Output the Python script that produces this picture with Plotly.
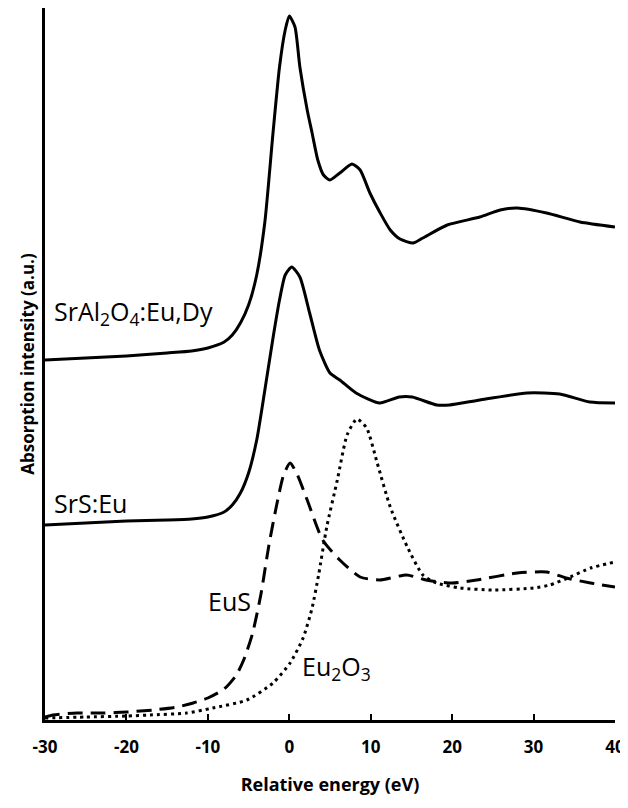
import plotly.graph_objects as go

# ---- data (relative energy in eV, absorption intensity in a.u.) ----
sral_x = [-30, -25, -20, -15, -12, -10, -8, -7, -6, -5, -4, -3, -2, -1.2, -0.5, 0.0,
          0.7, 1.3, 2.2, 2.8, 3.5, 4.2, 5.0, 6.2, 7.7, 8.7, 9.9, 11.1, 12.4, 13.6, 15.2,
          16.4, 19.4, 23.4, 25.9, 28.0, 31.6, 35.7, 40.0]
sral_y = [3.60, 3.62, 3.64, 3.67, 3.69, 3.72, 3.78, 3.85, 3.97, 4.15, 4.45, 4.98, 5.87, 6.53, 6.90, 7.04,
          6.93, 6.53, 6.10, 5.87, 5.60, 5.45, 5.40, 5.47, 5.56, 5.50, 5.27, 5.08, 4.90, 4.81, 4.77,
          4.82, 4.95, 5.03, 5.10, 5.12, 5.07, 4.98, 4.93]

srs_x = [-30, -25, -20, -15, -12, -10, -8, -7, -6, -5, -4, -3, -2, -1.2, -0.5, 0.3,
         1.3, 2.5, 3.7, 5.0, 6.2, 8.2, 11.1, 13.5, 15.1, 18.1, 19.7, 23.4, 29.2, 33.2, 36.9, 40.0]
srs_y = [1.95, 1.97, 1.99, 2.00, 2.01, 2.03, 2.08, 2.15, 2.27, 2.47, 2.80, 3.30, 3.82, 4.20, 4.45, 4.53,
         4.43, 4.07, 3.70, 3.47, 3.40, 3.27, 3.17, 3.23, 3.23, 3.15, 3.15, 3.20, 3.27, 3.26, 3.18, 3.17]

eus_x = [-30, -29.0, -26.1, -22.9, -19.9, -16.7, -13.8, -11.8, -10, -8, -6.5, -5.5, -4.5,
         -3.5, -2.5, -1.5, -0.7, 0.1, 1.0, 2.2, 4.1, 6.2, 8.7, 11.1, 14.4, 16.8, 20.0, 23.0, 28.0,
         31.6, 34.0, 37.0, 40.0]
eus_y = [0.03, 0.05, 0.07, 0.07, 0.08, 0.10, 0.13, 0.17, 0.22, 0.31, 0.45, 0.62, 0.87,
         1.25, 1.75, 2.17, 2.45, 2.57, 2.45, 2.20, 1.80, 1.60, 1.43, 1.40, 1.45, 1.40, 1.37, 1.40, 1.47,
         1.48, 1.42, 1.37, 1.33]

euo_x = [-30, -25, -20, -17.1, -12.6, -9.4, -5.2, -2.0, 0.1, 1.7, 2.8, 3.6, 4.6, 5.9,
         7.1, 8.3, 9.5, 10.8, 12.4, 14.5, 16.4, 18.1, 21.0, 25.0, 30.0, 32.0, 34.5, 37.0, 40.0]
euo_y = [0.02, 0.03, 0.04, 0.05, 0.07, 0.12, 0.20, 0.37, 0.57, 0.82, 1.12, 1.45, 1.93, 2.40,
         2.85, 3.01, 2.92, 2.57, 2.13, 1.73, 1.45, 1.37, 1.32, 1.30, 1.32, 1.35, 1.43, 1.52, 1.58]

x_ticks = [-30, -20, -10, 0, 10, 20, 30, 40]

FONT = "Open Sans"

fig = go.Figure()
line_common = dict(color="black", width=3, shape="spline", smoothing=0.6)
fig.add_trace(go.Scatter(x=sral_x, y=sral_y, mode="lines", line=line_common, name="SrAl2O4:Eu,Dy"))
fig.add_trace(go.Scatter(x=srs_x, y=srs_y, mode="lines", line=line_common, name="SrS:Eu"))
fig.add_trace(go.Scatter(x=eus_x, y=eus_y, mode="lines",
                         line=dict(line_common, dash="15px,8px"), name="EuS"))
fig.add_trace(go.Scatter(x=euo_x, y=euo_y, mode="lines",
                         line=dict(line_common, dash="3px,4px"), name="Eu2O3"))

lab_font = dict(family=FONT, size=25, color="black")
annots = [
    dict(x=-29.2, y=4.08, text="SrAl<sub>2</sub>O<sub>4</sub>:Eu,Dy"),
    dict(x=-29.2, y=2.17, text="SrS:Eu"),
    dict(x=-10.2, y=1.19, text="EuS"),
    dict(x=1.3, y=0.53, text="Eu<sub>2</sub>O<sub>3</sub>"),
]
for a in annots:
    fig.add_annotation(x=a["x"], y=a["y"], text=a["text"], showarrow=False,
                       xanchor="left", yanchor="middle", font=lab_font)

# page body has an 8px margin: figure is 620x800 so the plot area lands at x 45-615, y 8-720
fig.update_layout(
    width=620, height=800,
    margin=dict(l=37, r=13, t=0, b=88),
    paper_bgcolor="white", plot_bgcolor="white",
    showlegend=False,
    font=dict(family=FONT, color="black"),
)
fig.update_xaxes(
    range=[-30, 40], tickvals=x_ticks, ticktext=[str(v) for v in x_ticks],
    showgrid=False, zeroline=False, showline=True, linecolor="black", linewidth=3,
    ticks="inside", ticklen=6, tickwidth=2, tickcolor="black", ticklabelstandoff=10,
    tickfont=dict(family=FONT, size=17, color="black", weight="bold"),
    title=dict(text="<b>Relative energy (eV)</b>", font=dict(family=FONT, size=18, color="black"),
               standoff=21),
)
fig.update_yaxes(
    range=[0, 7.12], showticklabels=False, ticks="", showgrid=False, zeroline=False,
    showline=True, linecolor="black", linewidth=3,
    title=dict(text="<b>Absorption intensity (a.u.)</b>", font=dict(family=FONT, size=17, color="black"),
               standoff=4),
)

fig.write_html("out.html")
